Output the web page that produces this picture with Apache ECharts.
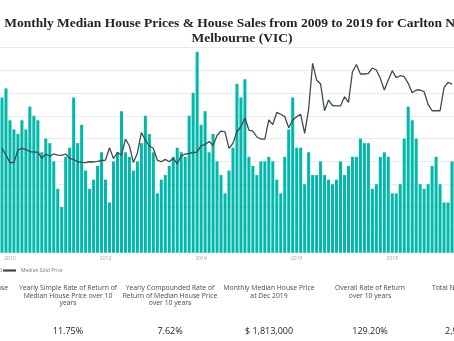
<!DOCTYPE html>
<html>
<head>
<meta charset="utf-8">
<script src="https://cdn.jsdelivr.net/npm/echarts@6/dist/echarts.min.js"></script>
<style>
  html, body { margin: 0; padding: 0; background: #ffffff; }
  #chart { width: 454px; height: 341px; }
</style>
</head>
<body>
<div id="chart"></div>
<script>
// ---- Data (visible window: Nov 2009 .. Apr 2019) ----
const startYear = 2009, startMonth = 11, monthCount = 114;
const months = [];
for (let i = 0; i < monthCount; i++) {
  const m = startMonth - 1 + i;
  const y = startYear + Math.floor(m / 12);
  const mm = (m % 12) + 1;
  months.push(y + '-' + (mm < 10 ? '0' + mm : mm));
}

const yearTicks = ['2010', '2012', '2014', '2016', '2018'];

const housesSold = [
  34,36,29,27,26,29,27,32,30,29,
  22,25,24,20,14,10,21,23,34,24,
  28,18,14,16,19,22,16,11,20,22,
  31,22,21,18,20,24,30,26,22,13,
  16,17,19,21,23,22,21,30,35,44,
  28,31,22,26,20,17,13,18,23,37,
  34,38,21,19,17,20,20,21,20,16,
  13,21,27,34,23,23,15,22,17,17,
  20,17,16,15,16,20,17,19,21,21,
  25,24,24,14,15,21,22,21,13,13,
  15,25,32,29,25,15,14,15,19,21,
  15,11,11,20
];

const medianSoldPrice = [
  915000,856000,789000,789000,900000,915000,906000,885000,882000,882000,
  827000,865000,847000,865000,856000,852000,865000,827000,817000,797000,
  792000,789000,797000,795000,801000,808000,812000,920000,825000,878000,
  856000,996000,935000,790000,874000,1053000,988000,935000,915000,812000,
  797000,818000,797000,827000,779000,847000,865000,871000,878000,882000,
  939000,948000,974000,939000,1027000,1066000,1058000,915000,959000,1060000,
  1104000,1180000,1075000,1066000,1014000,996000,996000,1163000,1123000,1230000,
  1213000,1192000,1095000,1163000,1192000,1213000,1046000,1259000,1660000,1513000,
  1478000,1244000,1338000,1290000,1286000,1286000,1367000,1318000,1586000,1649000,
  1566000,1566000,1572000,1619000,1601000,1528000,1426000,1513000,1595000,1534000,
  1551000,1542000,1484000,1402000,1426000,1426000,1411000,1300000,1244000,1244000,
  1244000,1446000,1493000,1478000
];

const titleLines = [
  'Monthly Median House Prices & House Sales from 2009 to 2019 for Carlton North',
  'Melbourne (VIC)'
];

const kpiTitles = [
  ['Median House Price Increase'],
  ['Yearly Simple Rate of Return of', 'Median House Price over 10', 'years'],
  ['Yearly Compounded Rate of', 'Return of Median House Price', 'over 10 years'],
  ['Monthly Median House Price', 'at Dec 2019'],
  ['Overall Rate of Return', 'over 10 years'],
  ['Total Number of Houses Sold']
];
const kpiValues = ['', '11.75%', '7.62%', '$ 1,813,000', '129.20%', '2,953'];

// ---- Layout ----
const TEAL = '#01B8AA';
const LINEC = '#3f4a4c';
const kpiCenters = [-33, 68, 170, 269, 370, null];

const graphics = [];
titleLines.forEach((t, i) => {
  graphics.push({
    type: 'text', x: 242, y: 23.5 + i * 14.7, silent: true,
    style: { text: t, font: 'bold 13.5px "Liberation Serif"', fill: '#252423',
      textAlign: 'center', textVerticalAlign: 'middle' }
  });
});
kpiTitles.forEach((lines, c) => {
  lines.forEach((t, j) => {
    let x = kpiCenters[c], align = 'center';
    if (c === 0) { x = 8; align = 'right'; }
    if (c === 5) { x = 432; align = 'left'; }
    graphics.push({
      type: 'text', x: x, y: 288 + j * 7.7, silent: true,
      style: { text: t, font: '6.8px "Open Sans"', fill: '#4a4a4a',
        textAlign: align, textVerticalAlign: 'middle' }
    });
  });
  if (kpiValues[c]) {
    let x = kpiCenters[c], align = 'center';
    if (c === 5) { x = 445; align = 'left'; }
    graphics.push({
      type: 'text', x: x, y: 331, silent: true,
      style: { text: kpiValues[c], font: '9px "Open Sans"', fill: '#252423',
        textAlign: align, textVerticalAlign: 'middle' }
    });
  }
});

const chart = echarts.init(document.getElementById('chart'), null, { renderer: 'canvas' });
chart.setOption({
  animation: false,
  backgroundColor: '#ffffff',
  grid: { left: -1.74, right: -2.2, top: 47.3, bottom: 88.3, containLabel: false },
  legend: [
    {
      data: [{ name: 'Number of Houses Sold', icon: 'rect' }],
      right: 452, top: 268, padding: 0, itemWidth: 6, itemHeight: 6,
      textStyle: { fontSize: 5, color: '#777', fontFamily: 'Open Sans' },
      selectedMode: false
    },
    {
      data: [{ name: 'Median Sold Price', icon: 'rect' }],
      left: 3, top: 268, padding: 0, itemWidth: 13, itemHeight: 2.2,
      textStyle: { fontSize: 5, color: '#777', fontFamily: 'Open Sans' },
      selectedMode: false
    }
  ],
  xAxis: {
    type: 'category',
    data: months,
    boundaryGap: true,
    axisLine: { show: false },
    axisTick: { show: false },
    axisLabel: {
      interval: (idx, val) => val.slice(5) === '01' && yearTicks.indexOf(val.slice(0, 4)) >= 0,
      formatter: (val) => val.slice(0, 4),
      fontSize: 5, color: '#a0a0a0', fontFamily: 'Open Sans', margin: 3
    }
  },
  yAxis: [
    {
      type: 'value', min: 0, max: 45, interval: 5,
      axisLabel: { show: false }, axisLine: { show: false }, axisTick: { show: false },
      splitLine: { show: true, lineStyle: { color: '#ececec', width: 1 } }
    },
    {
      type: 'value', min: 0, max: 1800000, interval: 200000,
      axisLabel: { show: false }, axisLine: { show: false }, axisTick: { show: false },
      splitLine: { show: false }
    }
  ],
  series: [
    {
      name: 'Number of Houses Sold', type: 'bar', data: housesSold,
      yAxisIndex: 0, barWidth: '76%', itemStyle: { color: TEAL }
    },
    {
      name: 'Median Sold Price', type: 'line', data: medianSoldPrice,
      yAxisIndex: 1, showSymbol: false, symbol: 'none', smooth: false,
      lineStyle: { color: LINEC, width: 1.3 }, itemStyle: { color: LINEC }, z: 5
    }
  ],
  graphic: graphics
});
</script>
</body>
</html>
